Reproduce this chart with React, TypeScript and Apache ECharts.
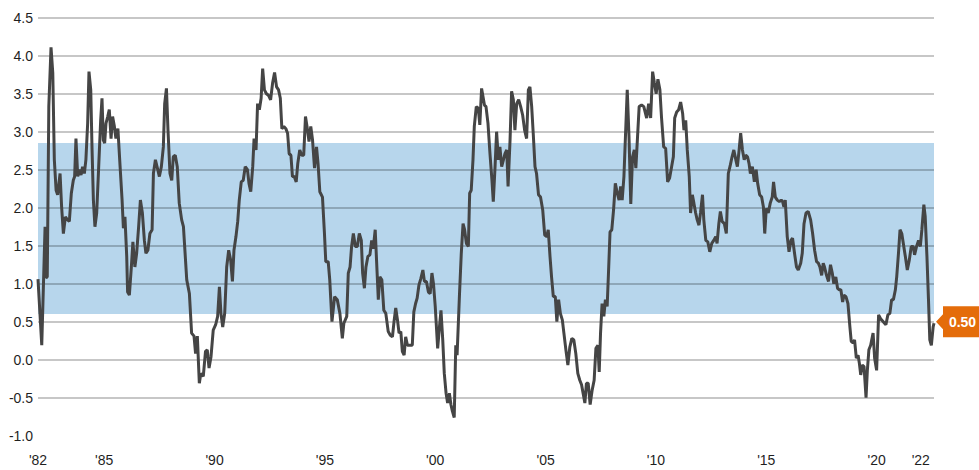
import React, { useEffect, useRef } from 'react';
import * as echarts from 'echarts';

const years = [
  1982.00, 1982.17, 1982.32, 1982.36, 1982.42, 1982.49, 1982.59, 1982.67, 1982.74, 1982.82, 1982.89,
  1983.00, 1983.07, 1983.15, 1983.24, 1983.34, 1983.42, 1983.51, 1983.60, 1983.66, 1983.72, 1983.80, 1983.87, 1983.95,
  1984.02, 1984.10, 1984.17, 1984.25, 1984.31, 1984.39, 1984.45, 1984.51, 1984.58, 1984.66, 1984.75, 1984.84, 1984.90, 1984.96,
  1985.02, 1985.08, 1985.16, 1985.23, 1985.31, 1985.38, 1985.46, 1985.53, 1985.62, 1985.72, 1985.81, 1985.87, 1985.94,
  1986.02, 1986.06, 1986.14, 1986.23, 1986.30, 1986.39, 1986.47, 1986.56, 1986.64, 1986.73, 1986.82, 1986.89, 1986.98,
  1987.07, 1987.17, 1987.23, 1987.32, 1987.41, 1987.50, 1987.59, 1987.68, 1987.74, 1987.82, 1987.89, 1987.98,
  1988.06, 1988.13, 1988.22, 1988.31, 1988.40, 1988.51, 1988.59, 1988.74, 1988.86, 1988.96,
  1989.07, 1989.14, 1989.22, 1989.31, 1989.38, 1989.49, 1989.59, 1989.67, 1989.75, 1989.84, 1989.94,
  1990.05, 1990.14, 1990.22, 1990.29, 1990.37, 1990.46, 1990.55, 1990.64, 1990.73, 1990.81, 1990.88, 1990.97,
  1991.05, 1991.12, 1991.21, 1991.30, 1991.39, 1991.49, 1991.56, 1991.64, 1991.73, 1991.79, 1991.88, 1991.95,
  1992.03, 1992.11, 1992.18, 1992.26, 1992.35, 1992.44, 1992.54, 1992.63, 1992.72, 1992.81, 1992.90, 1992.98,
  1993.05, 1993.14, 1993.23, 1993.31, 1993.38, 1993.46, 1993.53, 1993.61, 1993.70, 1993.77, 1993.86, 1993.95,
  1994.04, 1994.12, 1994.19, 1994.28, 1994.36, 1994.44, 1994.53, 1994.62, 1994.69, 1994.77, 1994.89, 1994.98,
  1995.04, 1995.15, 1995.22, 1995.32, 1995.44, 1995.56, 1995.68, 1995.79, 1995.86, 1995.99,
  1996.06, 1996.14, 1996.21, 1996.29, 1996.38, 1996.47, 1996.56, 1996.65, 1996.71, 1996.79, 1996.86, 1996.95,
  1997.04, 1997.12, 1997.19, 1997.28, 1997.34, 1997.42, 1997.49, 1997.58, 1997.67, 1997.76, 1997.87, 1997.97,
  1998.06, 1998.14, 1998.21, 1998.29, 1998.36, 1998.44, 1998.51, 1998.59, 1998.66, 1998.74, 1998.85, 1998.96,
  1999.03, 1999.11, 1999.18, 1999.26, 1999.35, 1999.44, 1999.51, 1999.60, 1999.69, 1999.77, 1999.85, 1999.92,
  2000.00, 2000.11, 2000.19, 2000.26, 2000.34, 2000.41, 2000.49, 2000.56, 2000.64, 2000.71, 2000.78, 2000.86, 2000.93, 2000.99,
  2001.10, 2001.18, 2001.26, 2001.33, 2001.41, 2001.50, 2001.56, 2001.63, 2001.71, 2001.77, 2001.86, 2001.95,
  2002.02, 2002.10, 2002.23, 2002.30, 2002.39, 2002.48, 2002.57, 2002.63, 2002.71, 2002.78, 2002.86, 2002.93,
  2003.01, 2003.09, 2003.16, 2003.24, 2003.30, 2003.39, 2003.46, 2003.54, 2003.61, 2003.69, 2003.78, 2003.87, 2003.96,
  2004.05, 2004.14, 2004.22, 2004.29, 2004.37, 2004.44, 2004.52, 2004.59, 2004.68, 2004.77, 2004.87, 2004.96,
  2005.05, 2005.12, 2005.20, 2005.27, 2005.35, 2005.44, 2005.51, 2005.59, 2005.67, 2005.76, 2005.83, 2005.92,
  2006.01, 2006.10, 2006.19, 2006.28, 2006.37, 2006.46, 2006.55, 2006.63, 2006.70, 2006.78, 2006.85, 2006.93,
  2007.02, 2007.11, 2007.20, 2007.28, 2007.37, 2007.43, 2007.49, 2007.56, 2007.64, 2007.71, 2007.79, 2007.85, 2007.92,
  2008.00, 2008.08, 2008.16, 2008.25, 2008.33, 2008.40, 2008.47, 2008.55, 2008.63, 2008.70, 2008.78, 2008.86, 2008.94,
  2009.02, 2009.09, 2009.24, 2009.35, 2009.45, 2009.58, 2009.67, 2009.76, 2009.85, 2009.93,
  2010.01, 2010.09, 2010.18, 2010.25, 2010.35, 2010.44, 2010.53, 2010.62, 2010.71, 2010.79, 2010.85, 2010.94,
  2011.03, 2011.12, 2011.21, 2011.27, 2011.35, 2011.42, 2011.51, 2011.57, 2011.65, 2011.72, 2011.80, 2011.87, 2011.95,
  2012.02, 2012.11, 2012.17, 2012.26, 2012.35, 2012.44, 2012.53, 2012.62, 2012.71, 2012.77, 2012.85, 2012.92,
  2013.00, 2013.10, 2013.19, 2013.28, 2013.37, 2013.45, 2013.53, 2013.62, 2013.69, 2013.77, 2013.84, 2013.92,
  2014.00, 2014.07, 2014.15, 2014.22, 2014.28, 2014.37, 2014.46, 2014.54, 2014.61, 2014.70, 2014.79, 2014.87, 2014.93,
  2015.00, 2015.09, 2015.18, 2015.27, 2015.33, 2015.41, 2015.50, 2015.59, 2015.68, 2015.74, 2015.80, 2015.86, 2015.95,
  2016.03, 2016.12, 2016.19, 2016.28, 2016.37, 2016.45, 2016.56, 2016.63, 2016.71, 2016.80, 2016.90,
  2017.01, 2017.10, 2017.19, 2017.28, 2017.36, 2017.43, 2017.51, 2017.58, 2017.64, 2017.73, 2017.82, 2017.91, 2017.99,
  2018.06, 2018.15, 2018.23, 2018.31, 2018.38, 2018.46, 2018.52, 2018.61, 2018.70, 2018.79, 2018.85, 2018.93,
  2019.00, 2019.08, 2019.16, 2019.22, 2019.28, 2019.35, 2019.43, 2019.52, 2019.58, 2019.65, 2019.73, 2019.84, 2019.91,
  2020.00, 2020.09, 2020.18, 2020.30, 2020.42, 2020.51, 2020.60, 2020.68, 2020.76, 2020.85, 2020.91, 2020.99,
  2021.06, 2021.14, 2021.21, 2021.30, 2021.39, 2021.48, 2021.57, 2021.66, 2021.72, 2021.81, 2021.90, 2021.98,
  2022.05, 2022.14, 2022.20, 2022.28, 2022.35, 2022.41, 2022.48, 2022.56, 2022.60,
];

const values = [
  1.06, 0.19, 1.75, 1.08, 1.09, 3.33, 4.11, 3.77, 2.63, 2.23, 2.17,
  2.45, 2.01, 1.66, 1.88, 1.84, 1.82, 2.19, 2.36, 2.41, 2.91, 2.41, 2.50, 2.43,
  2.54, 2.45, 2.63, 3.11, 3.79, 3.55, 2.76, 2.10, 1.75, 1.93, 2.54, 3.15, 3.44, 2.89,
  2.85, 3.11, 3.20, 3.29, 2.91, 3.20, 3.07, 2.91, 3.04, 2.54, 2.10, 1.73, 1.88,
  1.36, 0.89, 0.85, 1.22, 1.55, 1.22, 1.40, 1.75, 2.10, 1.93, 1.57, 1.40, 1.44,
  1.66, 1.71, 2.45, 2.63, 2.52, 2.41, 2.54, 2.80, 3.37, 3.57, 3.02, 2.45,
  2.36, 2.67, 2.69, 2.54, 2.06, 1.84, 1.75, 1.05, 0.87, 0.35,
  0.31, 0.08, 0.31, -0.31, -0.18, -0.22, 0.11, 0.13, -0.11, 0.04, 0.39,
  0.46, 0.57, 0.96, 0.61, 0.43, 0.61, 1.22, 1.44, 1.31, 1.03, 1.44, 1.62,
  1.82, 2.10, 2.34, 2.36, 2.54, 2.50, 2.32, 2.21, 2.54, 2.91, 2.76, 3.37,
  3.29, 3.44, 3.83, 3.55, 3.50, 3.48, 3.42, 3.64, 3.78, 3.59, 3.55, 3.44,
  3.04, 3.07, 3.04, 2.98, 2.71, 2.69, 2.41, 2.41, 2.34, 2.58, 2.76, 2.69,
  2.69, 3.20, 3.07, 2.87, 3.07, 2.89, 2.52, 2.80, 2.58, 2.21, 2.14, 1.66,
  1.29, 1.29, 1.05, 0.50, 0.83, 0.79, 0.61, 0.28, 0.48, 0.57,
  1.14, 1.22, 1.49, 1.66, 1.49, 1.49, 1.66, 1.57, 1.14, 0.94, 1.22, 1.36,
  1.38, 1.57, 1.46, 1.71, 1.31, 0.79, 1.09, 1.05, 0.65, 0.61, 0.37, 0.32,
  0.30, 0.52, 0.68, 0.52, 0.35, 0.37, 0.11, 0.06, 0.30, 0.19, 0.19, 0.19,
  0.63, 0.74, 0.81, 0.98, 1.07, 1.18, 1.03, 1.03, 0.89, 0.87, 1.14, 1.00,
  0.70, 0.15, 0.43, 0.65, 0.26, -0.18, -0.44, -0.57, -0.44, -0.59, -0.68, -0.76, 0.19, 0.06,
  0.87, 1.40, 1.79, 1.71, 1.53, 1.49, 2.19, 2.23, 2.63, 3.07, 3.33, 3.31,
  3.09, 3.57, 3.35, 3.33, 3.11, 2.71, 2.36, 2.08, 2.54, 3.00, 2.63, 2.80,
  2.54, 2.63, 2.71, 2.76, 2.28, 2.89, 3.53, 3.42, 3.02, 3.37, 3.42, 3.33, 3.22,
  3.02, 2.91, 3.55, 3.59, 3.33, 2.98, 2.54, 2.45, 2.17, 2.14, 1.97, 1.64,
  1.62, 1.71, 1.36, 1.09, 0.83, 0.83, 0.50, 0.79, 0.61, 0.52, 0.35, 0.13,
  -0.07, 0.17, 0.28, 0.26, 0.08, -0.18, -0.27, -0.33, -0.44, -0.57, -0.31, -0.31,
  -0.59, -0.40, -0.27, 0.15, 0.19, -0.16, 0.35, 0.74, 0.57, 0.79, 0.70, 1.14, 1.68,
  1.71, 1.97, 2.32, 2.19, 2.10, 2.28, 2.10, 2.41, 3.02, 3.55, 2.93, 2.05, 2.67,
  2.76, 2.52, 3.33, 3.35, 3.33, 3.18, 3.37, 3.18, 3.79, 3.64,
  3.50, 3.69, 3.55, 3.20, 2.80, 2.78, 2.34, 2.39, 2.54, 2.67, 3.18, 3.26,
  3.29, 3.39, 3.24, 3.02, 3.15, 2.76, 2.41, 1.93, 2.17, 2.06, 1.93, 1.84, 1.77,
  1.93, 2.17, 1.84, 1.57, 1.55, 1.42, 1.53, 1.57, 1.62, 1.53, 1.79, 1.95,
  1.82, 1.79, 1.66, 2.45, 2.56, 2.67, 2.76, 2.63, 2.54, 2.76, 2.98, 2.76,
  2.63, 2.69, 2.67, 2.58, 2.45, 2.54, 2.34, 2.50, 2.32, 2.17, 2.14, 2.01, 1.66,
  1.99, 1.93, 2.06, 2.14, 2.34, 2.14, 2.10, 2.08, 2.10, 2.08, 2.01, 2.10, 1.62,
  1.42, 1.57, 1.60, 1.40, 1.22, 1.18, 1.27, 1.40, 1.79, 1.93, 1.95,
  1.84, 1.66, 1.44, 1.29, 1.27, 1.22, 1.11, 1.27, 1.22, 1.11, 1.03, 1.25, 1.14,
  1.00, 1.09, 0.94, 0.92, 0.92, 0.76, 0.85, 0.83, 0.74, 0.43, 0.24, 0.22,
  0.26, 0.02, 0.06, -0.05, -0.20, -0.07, -0.09, -0.50, -0.14, 0.13, 0.19, 0.35, 0.02,
  -0.14, 0.59, 0.54, 0.50, 0.46, 0.59, 0.61, 0.79, 0.79, 0.92, 1.09, 1.40,
  1.71, 1.66, 1.53, 1.36, 1.18, 1.31, 1.49, 1.49, 1.38, 1.49, 1.57, 1.49,
  1.71, 2.04, 1.89, 1.36, 0.79, 0.26, 0.19, 0.43, 0.48,
];

const xTickYears = [1982, 1985, 1990, 1995, 2000, 2005, 2010, 2015, 2020, 2022];
const bandRange = [0.6, 2.85];
const lastValue = 0.5;
const lastValueText = '0.50';
const xMin = 1982;
const xMax = 2022.6;

export default function App() {
  const ref = useRef<HTMLDivElement>(null);

  useEffect(() => {
    if (!ref.current) return;
    const chart = echarts.init(ref.current, undefined, { renderer: 'svg' });
    const font = '"Liberation Sans", Arial, sans-serif';
    const lineData = years.map((y, i) => [y, values[i]]);

    chart.setOption({
      animation: false,
      textStyle: { fontFamily: font },
      grid: { left: 38, right: 45, top: 17.7, bottom: 34.3, containLabel: false },
      xAxis: {
        type: 'value',
        min: xMin,
        max: xMax,
        z: 5,
        axisLine: { show: false },
        axisTick: { show: false },
        splitLine: { show: false },
        axisLabel: {
          customValues: xTickYears,
          showMinLabel: true,
          showMaxLabel: true,
          margin: 17,
          color: '#1f1f1f',
          fontSize: 14,
          fontFamily: font,
          formatter: (v: number) => "'" + String(Math.round(v)).slice(2),
        },
      },
      yAxis: {
        type: 'value',
        min: -1,
        max: 4.5,
        interval: 0.5,
        z: 5,
        axisLine: { show: false },
        axisTick: { show: false },
        splitLine: {
          show: true,
          showMinLine: false,
          lineStyle: { color: 'rgba(0,0,0,0.22)', width: 2 },
        },
        axisLabel: {
          margin: 5,
          color: '#1f1f1f',
          fontSize: 14,
          fontFamily: font,
          formatter: (v: number) => v.toFixed(1),
        },
      },
      series: [
        {
          type: 'line',
          z: 1,
          data: [],
          silent: true,
          markArea: {
            silent: true,
            z: 1,
            itemStyle: { color: '#b7d6ec' },
            data: [[{ yAxis: bandRange[0] }, { yAxis: bandRange[1] }]],
          },
        },
        {
          type: 'line',
          z: 10,
          data: lineData,
          showSymbol: false,
          symbol: 'none',
          lineStyle: { color: '#454545', width: 3 },
          markPoint: {
            z: 12,
            silent: true,
            symbol: 'path://M0,15.5 L7,8 L7,0 L43,0 L43,31 L7,31 L7,23 Z',
            symbolSize: [43, 31],
            symbolKeepAspect: false,
            symbolOffset: [23.5, 0],
            itemStyle: { color: '#E46C0A' },
            label: {
              show: true,
              position: 'inside',
              offset: [5, 0],
              color: '#ffffff',
              fontWeight: 'bold',
              fontSize: 14,
              fontFamily: font,
              formatter: lastValueText,
            },
            data: [{ coord: [xMax, lastValue] }],
          },
        },
      ],
    });

    return () => chart.dispose();
  }, []);

  return (
    <div
      ref={ref}
      style={{ position: 'fixed', left: 0, top: 0, width: 979, height: 470, background: '#fff' }}
    />
  );
}
